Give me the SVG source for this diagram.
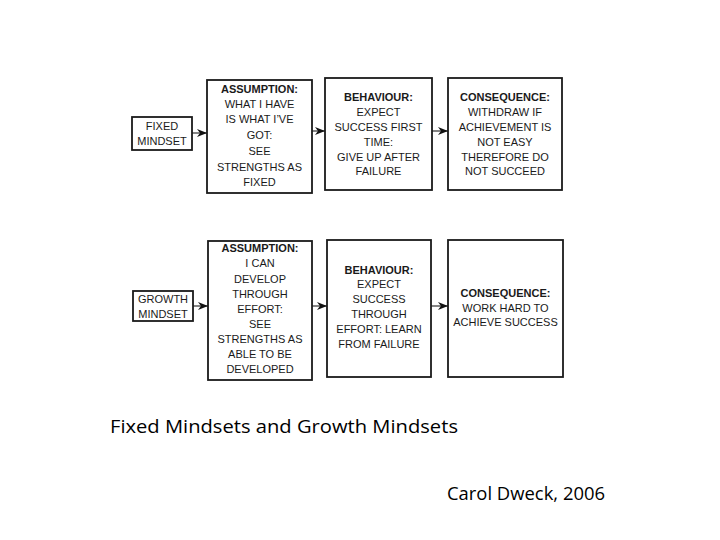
<svg xmlns="http://www.w3.org/2000/svg" width="720" height="540" viewBox="0 0 720 540">
<defs>
<style>
.box{fill:#fff;stroke:#1a1a1a;stroke-width:1.8}
.t{font-family:"Liberation Sans",Arial,sans-serif;font-size:11px;fill:#1a1a1a;text-anchor:middle}
.h{font-weight:bold}
.conn{stroke:#333;stroke-width:1.2;fill:none;marker-end:url(#ah)}
.cap{font-family:"Open Sans","Liberation Sans",sans-serif;fill:#000}
</style>
<marker id="ah" viewBox="0 0 10 10" refX="10" refY="5" markerWidth="10" markerHeight="10" markerUnits="userSpaceOnUse" orient="auto">
<path d="M0,1 L10,5 L0,9 L3,5 Z" fill="#111"/>
</marker>
</defs>
<rect width="720" height="540" fill="#fff"/>

<g id="connectors">
<line class="conn" x1="192" y1="133" x2="207" y2="133"/>
<line class="conn" x1="312" y1="131" x2="325" y2="131"/>
<line class="conn" x1="432" y1="131" x2="448" y2="131"/>
<line class="conn" x1="193" y1="306" x2="208" y2="306"/>
<line class="conn" x1="312" y1="306" x2="327" y2="306"/>
<line class="conn" x1="431" y1="306" x2="448" y2="306"/>
</g>

<g id="fixed-mindset">
<rect class="box" x="132" y="117" width="60" height="33"/>
<text class="t" x="162" y="130">FIXED</text>
<text class="t" x="162" y="145">MINDSET</text>
</g>
<g id="fixed-assumption">
<rect class="box" x="207" y="80" width="105" height="113"/>
<text class="t h" x="259.5" y="93">ASSUMPTION:</text>
<text class="t" x="259.5" y="108">WHAT I HAVE</text>
<text class="t" x="259.5" y="123">IS WHAT I’VE</text>
<text class="t" x="259.5" y="139">GOT:</text>
<text class="t" x="259.5" y="155">SEE</text>
<text class="t" x="259.5" y="171">STRENGTHS AS</text>
<text class="t" x="259.5" y="186">FIXED</text>
</g>
<g id="fixed-behaviour">
<rect class="box" x="325" y="78" width="107" height="112"/>
<text class="t h" x="378.5" y="101">BEHAVIOUR:</text>
<text class="t" x="378.5" y="116">EXPECT</text>
<text class="t" x="378.5" y="131">SUCCESS FIRST</text>
<text class="t" x="378.5" y="146">TIME:</text>
<text class="t" x="378.5" y="161">GIVE UP AFTER</text>
<text class="t" x="378.5" y="175">FAILURE</text>
</g>
<g id="fixed-consequence">
<rect class="box" x="448" y="78" width="114" height="112"/>
<text class="t h" x="505" y="101">CONSEQUENCE:</text>
<text class="t" x="505" y="116">WITHDRAW IF</text>
<text class="t" x="505" y="131">ACHIEVEMENT IS</text>
<text class="t" x="505" y="146">NOT EASY</text>
<text class="t" x="505" y="161">THEREFORE DO</text>
<text class="t" x="505" y="175">NOT  SUCCEED</text>
</g>

<g id="growth-mindset">
<rect class="box" x="133" y="291" width="60" height="30"/>
<text class="t" x="163" y="303">GROWTH</text>
<text class="t" x="163" y="318">MINDSET</text>
</g>
<g id="growth-assumption">
<rect class="box" x="208" y="241" width="104" height="139"/>
<text class="t h" x="260" y="252">ASSUMPTION:</text>
<text class="t" x="260" y="267">I CAN</text>
<text class="t" x="260" y="283">DEVELOP</text>
<text class="t" x="260" y="298">THROUGH</text>
<text class="t" x="260" y="313">EFFORT:</text>
<text class="t" x="260" y="328">SEE</text>
<text class="t" x="260" y="343">STRENGTHS AS</text>
<text class="t" x="260" y="358">ABLE TO BE</text>
<text class="t" x="260" y="373">DEVELOPED</text>
</g>
<g id="growth-behaviour">
<rect class="box" x="327" y="240" width="104" height="137"/>
<text class="t h" x="379" y="274">BEHAVIOUR:</text>
<text class="t" x="379" y="288">EXPECT</text>
<text class="t" x="379" y="303">SUCCESS</text>
<text class="t" x="379" y="318">THROUGH</text>
<text class="t" x="379" y="333">EFFORT: LEARN</text>
<text class="t" x="379" y="348">FROM FAILURE</text>
</g>
<g id="growth-consequence">
<rect class="box" x="448" y="240" width="115" height="137"/>
<text class="t h" x="505.5" y="297">CONSEQUENCE:</text>
<text class="t" x="505.5" y="312">WORK HARD TO</text>
<text class="t" x="505.5" y="326">ACHIEVE SUCCESS</text>
</g>

<text class="cap" x="110" y="433" font-size="19" textLength="348" lengthAdjust="spacingAndGlyphs">Fixed Mindsets and Growth Mindsets</text>
<text class="cap" x="447" y="500" font-size="19" textLength="158" lengthAdjust="spacingAndGlyphs">Carol Dweck, 2006</text>
</svg>
